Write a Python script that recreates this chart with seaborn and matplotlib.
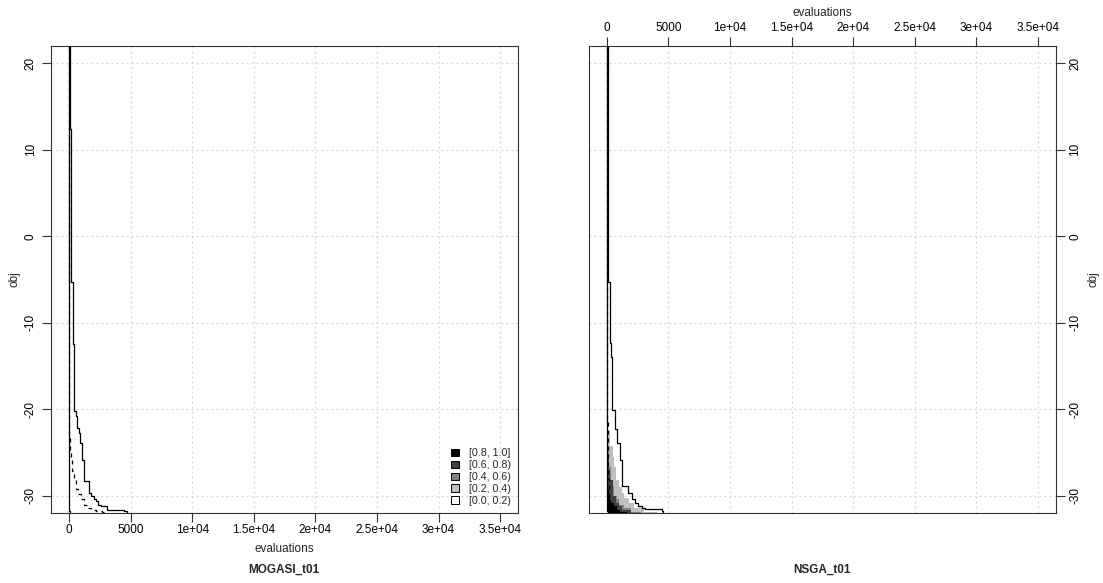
import numpy as np
import pandas as pd
import matplotlib
matplotlib.use("Agg")
import matplotlib.pyplot as plt
import seaborn as sns
from matplotlib.patches import Patch

# ---------------- data ----------------
x_ticks = [0, 5000, 10000, 15000, 20000, 25000, 30000, 35000]
x_tick_labels = ["0", "5000", "1e+04", "1.5e+04", "2e+04", "2.5e+04", "3e+04", "3.5e+04"]
y_ticks = [-30, -20, -10, 0, 10, 20]
y_tick_labels = ["-30", "-20", "-10", "0", "10", "20"]

panel_titles = ["MOGASI_t01", "NSGA_t01"]
x_label = "evaluations"
y_label = "obj"

legend_labels = ["[0.8, 1.0]", "[0.6, 0.8)", "[0.4, 0.6)", "[0.2, 0.4)", "[0.0, 0.2)"]
legend_colors = ["#000000", "#404040", "#808080", "#BFBFBF", "#FFFFFF"]

# attainment surfaces: at evaluation e_i the objective drops to obj_i
mogasi_best_evals = [15, 110]
mogasi_best_obj = [-31.75, -33.0]
mogasi_median_evals = [35, 70, 180, 260, 390, 530, 750, 935, 1205, 1480, 1750, 2150, 2700, 2900]
mogasi_median_obj = [-23.3, -24.8, -25.8, -27.1, -28.1, -29.2, -29.8, -30.4, -31.0, -31.4, -31.6, -31.7, -31.8, -33.0]
mogasi_worst_evals = [60, 180, 285, 390, 530, 665, 800, 880, 1070, 1205, 1610, 1800, 2020, 2150,
                      2340, 2560, 3100, 4460, 4730]
mogasi_worst_obj = [12.4, -5.3, -12.4, -20.2, -20.7, -22.1, -22.7, -23.9, -25.8, -28.3, -29.6, -30.0,
                    -30.3, -30.6, -31.0, -31.2, -31.6, -31.75, -33.0]

nsga_best_evals = [0, 80]
nsga_best_obj = [-31.75, -33.0]
nsga_median_evals = [10, 60, 110, 160, 230, 330, 420]
nsga_median_obj = [-21.5, -25.0, -28.0, -30.0, -31.2, -31.7, -33.0]
nsga_worst_evals = [110, 260, 340, 450, 670, 850, 1070, 1260, 1700, 2020, 2290, 2560, 2830, 3100,
                    4460, 4590]
nsga_worst_obj = [-5.3, -12.3, -13.9, -20.1, -22.3, -23.9, -25.8, -28.8, -29.7, -30.3, -30.8, -31.1,
                  -31.4, -31.55, -31.7, -33.0]

# EAF difference regions (NSGA better), right edge of each level
diff_left_eval = 60
lvl02_obj = [-21.2, -22.5, -24.2, -25.5, -26.6, -28.1, -29.0, -29.6, -30.2, -30.8, -31.4, -31.8, -33.0]
lvl02_eval = [100, 250, 460, 600, 730, 1000, 1200, 1400, 1800, 2210, 3020, 4100, 4100]
lvl04_obj = [-23.1, -24.5, -26.6, -28.1, -28.9, -30.0, -30.4, -31.0, -31.4, -31.8, -33.0]
lvl04_eval = [120, 200, 330, 460, 590, 800, 1000, 1400, 1945, 2750, 2750]
lvl06_obj = [-25.4, -27.0, -28.1, -29.2, -30.0, -30.8, -31.2, -31.6, -33.0]
lvl06_eval = [150, 250, 460, 520, 730, 1000, 1270, 1945, 1945]
lvl08_obj = [-29.2, -30.0, -30.8, -31.2, -31.6, -31.9, -33.0]
lvl08_eval = [180, 250, 590, 800, 1100, 1675, 1675]

# ---------------- style ----------------
sns.set_theme(style="white")
plt.rcParams["font.family"] = ["Liberation Sans", "DejaVu Sans"]
FS = 8.5
EDGE = "#333333"
Y_TOP = 40.0
XLIM = (-1490, 36430)
YLIM = (-31.93, 22.03)

W, H = 1103, 583
fig = plt.figure(figsize=(W / 100, H / 100), dpi=100)

box_w = 467 / W
box_h = (512.7 - 45.7) / H
bottom = 1 - 512.7 / H
ax_l = fig.add_axes([50.7 / W, bottom, box_w, box_h])
ax_r = fig.add_axes([588.5 / W, bottom, box_w, box_h])


def draw_surface(ax, evals, objs, dashed=False):
    xs = [evals[0]] + list(evals)
    ys = [Y_TOP] + list(objs)
    df = pd.DataFrame({"evaluations": xs, "obj": ys})
    ls = (0, (3.2, 3.2)) if dashed else "-"
    sns.lineplot(data=df, x="evaluations", y="obj", ax=ax, sort=False, estimator=None,
                 drawstyle="steps-post", color="black", linewidth=0.9, linestyle=ls, zorder=5)


def style_axes(ax, side):
    ax.set_xlim(*XLIM)
    ax.set_ylim(*YLIM)
    ax.set_xticks(x_ticks)
    ax.set_xticklabels(x_tick_labels)
    ax.set_yticks(y_ticks)
    ax.set_yticklabels(y_tick_labels)
    ax.grid(True, color="#D3D3D3", linestyle=(0, (1.5, 2.5)), linewidth=0.9, zorder=0)
    ax.set_axisbelow(True)
    for sp in ax.spines.values():
        sp.set_visible(True)
        sp.set_color(EDGE)
        sp.set_linewidth(0.8)
    ax.tick_params(direction="out", length=6.5, width=0.8, color=EDGE, labelsize=FS,
                   labelcolor="black")
    ax.tick_params(axis="x", pad=1.8)
    ax.tick_params(axis="y", pad=3.5)
    for t in ax.yaxis.get_major_ticks():
        t.label1.set_rotation(90)
        t.label1.set_va("center")
        t.label1.set_ha("right")
        t.label2.set_rotation(90)
        t.label2.set_va("center")
        t.label2.set_ha("left")


# ---- left panel ----
style_axes(ax_l, "left")
ax_l.tick_params(bottom=True, left=True, top=False, right=False,
                 labelbottom=True, labelleft=True, labeltop=False, labelright=False)
draw_surface(ax_l, mogasi_best_evals, mogasi_best_obj)
draw_surface(ax_l, mogasi_median_evals, mogasi_median_obj, dashed=True)
draw_surface(ax_l, mogasi_worst_evals, mogasi_worst_obj)
ax_l.set_xlabel(x_label, fontsize=FS)
ax_l.xaxis.set_label_coords(0.5, -(543.5 - 512.7) / 467)
ax_l.set_ylabel(y_label, fontsize=FS)
ax_l.yaxis.set_label_coords(-(50.7 - 21) / 467, 0.5)
ax_l.text(0.5, -(570 - 512.7) / 467, panel_titles[0], transform=ax_l.transAxes,
          ha="center", va="center", fontsize=FS, fontweight="bold")

handles = [Patch(facecolor=c, edgecolor="black", linewidth=0.7) for c in legend_colors]
leg = ax_l.legend(handles, legend_labels, loc="lower left",
                  bbox_to_anchor=((451 - 50.7) / 467, (512.7 - 506) / 467),
                  frameon=False, fontsize=7.7, handlelength=0.75, handleheight=0.75,
                  handletextpad=0.9, labelspacing=0.18, borderpad=0, borderaxespad=0)

# ---- right panel ----
style_axes(ax_r, "right")
ax_r.xaxis.tick_top()
ax_r.yaxis.tick_right()
ax_r.tick_params(bottom=False, left=False, top=True, right=True,
                 labelbottom=False, labelleft=False, labeltop=True, labelright=True)
for objs, evals, col in [(lvl02_obj, lvl02_eval, legend_colors[3]),
                         (lvl04_obj, lvl04_eval, legend_colors[2]),
                         (lvl06_obj, lvl06_eval, legend_colors[1]),
                         (lvl08_obj, lvl08_eval, legend_colors[0])]:
    ax_r.fill_betweenx(objs, diff_left_eval, evals, step="post", color=col, linewidth=0, zorder=2)
draw_surface(ax_r, nsga_best_evals, nsga_best_obj)
draw_surface(ax_r, nsga_median_evals, nsga_median_obj, dashed=True)
draw_surface(ax_r, nsga_worst_evals, nsga_worst_obj)
ax_r.xaxis.set_label_position("top")
ax_r.set_xlabel(x_label, fontsize=FS)
ax_r.xaxis.set_label_coords(0.5, 1 + (45.7 - 15.5) / 467)
ax_r.yaxis.set_label_position("right")
ax_r.set_ylabel(y_label, fontsize=FS)
ax_r.yaxis.set_label_coords(1 + (1087 - 1055.5) / 467, 0.5)
ax_r.text(0.5, -(570 - 512.7) / 467, panel_titles[1], transform=ax_r.transAxes,
          ha="center", va="center", fontsize=FS, fontweight="bold")

fig.savefig("out.png", dpi=100, facecolor="white")
